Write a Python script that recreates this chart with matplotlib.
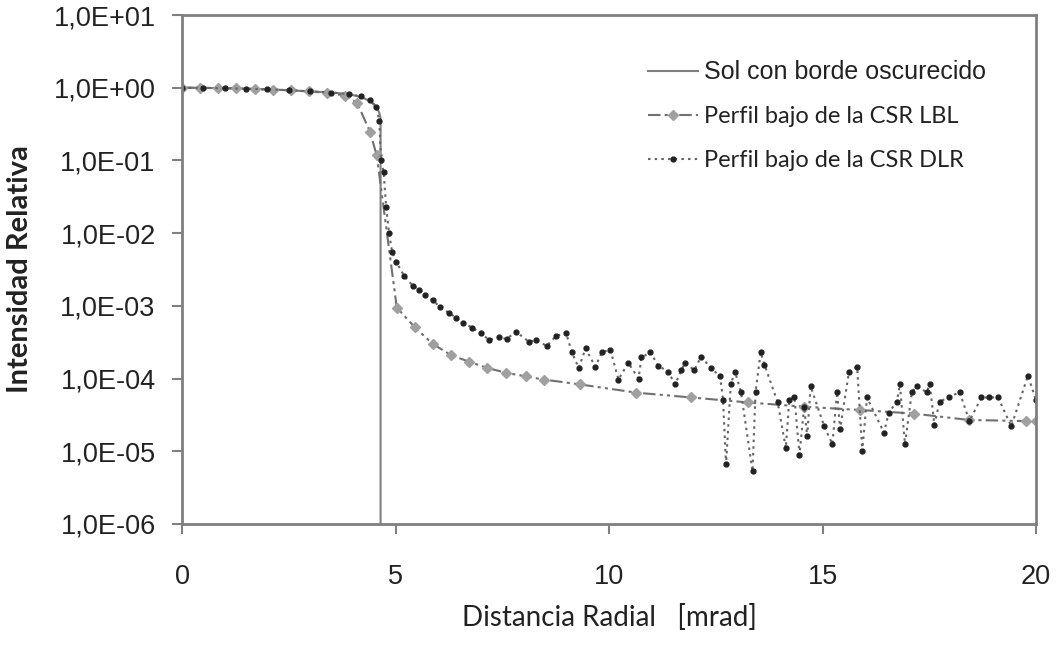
import matplotlib as mpl
mpl.use('agg')
import matplotlib.pyplot as plt
from matplotlib.ticker import FixedLocator

# Sol con borde oscurecido (limb darkened sun)
sun_x = [0, 0.5, 1, 1.5, 2, 2.5, 3, 3.5, 3.9, 4.2, 4.4, 4.55, 4.62, 4.65, 4.65]
sun_y = [1.0, 0.995, 0.985, 0.97, 0.95, 0.925, 0.89, 0.86, 0.82, 0.74, 0.66, 0.55, 0.45, 0.38, 1e-6]

# Perfil bajo de la CSR LBL
lbl_x = [0.0, 0.42, 0.85, 1.27, 1.7, 2.12, 2.55, 2.97, 3.4, 3.82, 4.1, 4.4, 4.56,
         5.03, 5.45, 5.87, 6.3, 6.73, 7.15, 7.59, 8.05, 8.47, 9.33, 10.64, 11.92,
         13.25, 14.57, 15.88, 17.13, 18.42, 19.77, 20.0]
lbl_y = [1.0, 1.0, 0.99, 0.98, 0.96, 0.94, 0.92, 0.89, 0.85, 0.78, 0.62, 0.25, 0.117,
         9.4e-4, 5.1e-4, 3.0e-4, 2.1e-4, 1.7e-4, 1.4e-4, 1.2e-4, 1.07e-4, 9.7e-5, 8.3e-5,
         6.4e-5, 5.5e-5, 4.7e-5, 4.1e-5, 3.7e-5, 3.3e-5, 2.7e-5, 2.6e-5, 2.6e-5]

# Perfil bajo de la CSR DLR
dlr_x = [0.0, 0.5, 1.0, 1.5, 2.0, 2.5, 3.0, 3.5, 3.9, 4.2, 4.4, 4.55, 4.62,
         4.66, 4.72, 4.78, 4.85, 4.92, 5.02, 5.2, 5.4, 5.56, 5.7, 5.87, 6.05,
         6.26, 6.42, 6.57, 6.8, 7.0, 7.19, 7.43, 7.6, 7.82, 8.13, 8.3, 8.54,
         8.75, 8.99, 9.13, 9.29, 9.45, 9.68, 9.83, 10.03, 10.22, 10.45, 10.69,
         10.76, 10.97, 11.15, 11.38, 11.55, 11.69, 11.78, 12.0, 12.15, 12.39,
         12.6, 12.67, 12.74, 12.85, 12.95, 13.09, 13.36, 13.43, 13.55, 13.64,
         13.95, 14.14, 14.22, 14.34, 14.46, 14.57, 14.64, 14.72, 15.04, 15.23,
         15.34, 15.41, 15.62, 15.81, 15.93, 16.04, 16.44, 16.55, 16.74, 16.81,
         16.93, 17.09, 17.2, 17.44, 17.51, 17.62, 17.74, 17.97, 18.21, 18.44,
         18.72, 18.9, 19.11, 19.42, 19.81, 20.0]
dlr_y = [1.0, 0.995, 0.985, 0.97, 0.95, 0.925, 0.89, 0.86, 0.82, 0.76, 0.68, 0.55, 0.35,
         0.1, 0.07, 0.023, 0.01, 5.5e-3, 4.0e-3, 2.6e-3, 1.9e-3, 1.66e-3, 1.4e-3, 1.2e-3, 9.5e-4,
         8.0e-4, 6.8e-4, 5.9e-4, 5.0e-4, 4.2e-4, 3.4e-4, 3.7e-4, 3.5e-4, 4.4e-4, 3.2e-4, 3.4e-4, 2.8e-4,
         3.8e-4, 4.3e-4, 2.3e-4, 1.4e-4, 2.6e-4, 1.45e-4, 2.3e-4, 2.5e-4, 9.7e-5, 1.65e-4, 1.0e-4,
         1.95e-4, 2.3e-4, 1.5e-4, 1.25e-4, 8.3e-5, 1.3e-4, 1.65e-4, 1.3e-4, 2.0e-4, 1.4e-4,
         1.07e-4, 5.1e-5, 6.6e-6, 8.3e-5, 1.25e-4, 6.5e-5, 5.3e-6, 6.5e-5, 2.3e-4, 1.55e-4,
         4.7e-5, 1.1e-5, 5.1e-5, 5.6e-5, 9.0e-6, 4.1e-5, 1.6e-5, 7.8e-5, 2.2e-5, 1.25e-5,
         6.5e-5, 2.0e-5, 1.25e-4, 1.45e-4, 1.0e-5, 5.5e-5, 1.8e-5, 3.4e-5, 4.8e-5, 8.3e-5,
         1.25e-5, 6.5e-5, 7.8e-5, 6.5e-5, 8.3e-5, 2.3e-5, 4.8e-5, 5.6e-5, 6.5e-5, 2.6e-5,
         5.5e-5, 5.5e-5, 5.5e-5, 2.2e-5, 1.1e-4, 5.0e-5]

yticks = [1e1, 1e0, 1e-1, 1e-2, 1e-3, 1e-4, 1e-5, 1e-6]
ytick_labels = ["1,0E+01", "1,0E+00", "1,0E-01", "1,0E-02", "1,0E-03", "1,0E-04", "1,0E-05", "1,0E-06"]
xticks = [0, 5, 10, 15, 20]

fig = plt.figure(figsize=(10.57, 6.45), dpi=100)
ax = fig.add_axes([0.1722, 0.1876, 0.8080, 0.7891])

ax.plot(sun_x, sun_y, color='#808080', lw=1.5, label='Sol con borde oscurecido')
ax.plot(lbl_x, lbl_y, color='#707070', lw=1.5, ls=(0, (6, 2, 1.5, 2, 1.5, 2)),
        marker='D', ms=5.5, mfc='#a0a0a0', mec='#a0a0a0', label='Perfil bajo de la CSR LBL')
ax.plot(dlr_x, dlr_y, color='#666666', lw=1.5, ls=(0, (1.2, 2)),
        marker='o', ms=3.5, mfc='#222222', mec='#222222', label='Perfil bajo de la CSR DLR')

ax.set_yscale('log')
ax.set_ylim(1e-6, 1e1)
ax.set_xlim(0, 20)
ax.yaxis.set_minor_locator(FixedLocator([]))
ax.set_yticks(yticks)
ax.set_yticklabels(ytick_labels, family='Liberation Sans', fontsize=19.5, color='#222222')
ax.set_xticks(xticks)
ax.set_xticklabels([str(v) for v in xticks], family='Liberation Sans', fontsize=19.5, color='#222222')
ax.tick_params(axis='both', direction='out', length=7, width=1.5, color='#808080')
ax.tick_params(axis='y', pad=12)
ax.tick_params(axis='x', pad=22)
for s in ax.spines.values():
    s.set_color('#808080')
    s.set_linewidth(2)

ax.set_ylabel('Intensidad Relativa', family='Lato', weight='bold', fontsize=21, color='#222222')
ax.yaxis.set_label_coords((33 - 182) / 854, 0.5)
ax.set_xlabel('Distancia Radial   [mrad]', family='Lato', fontsize=20, color='#222222', labelpad=10)

leg = ax.legend(loc='upper left', bbox_to_anchor=((648 - 182) / 854, (524 - 60) / 509),
                borderaxespad=0, borderpad=0, frameon=False,
                handlelength=2.1, handletextpad=0.25, labelspacing=0.95,
                prop={'family': 'Lato', 'size': 17})
leg.get_texts()[0].set_family('Liberation Sans')
leg.get_texts()[0].set_fontsize(18)
for t in leg.get_texts():
    t.set_color('#222222')

fig.savefig('out.png', dpi=100)
